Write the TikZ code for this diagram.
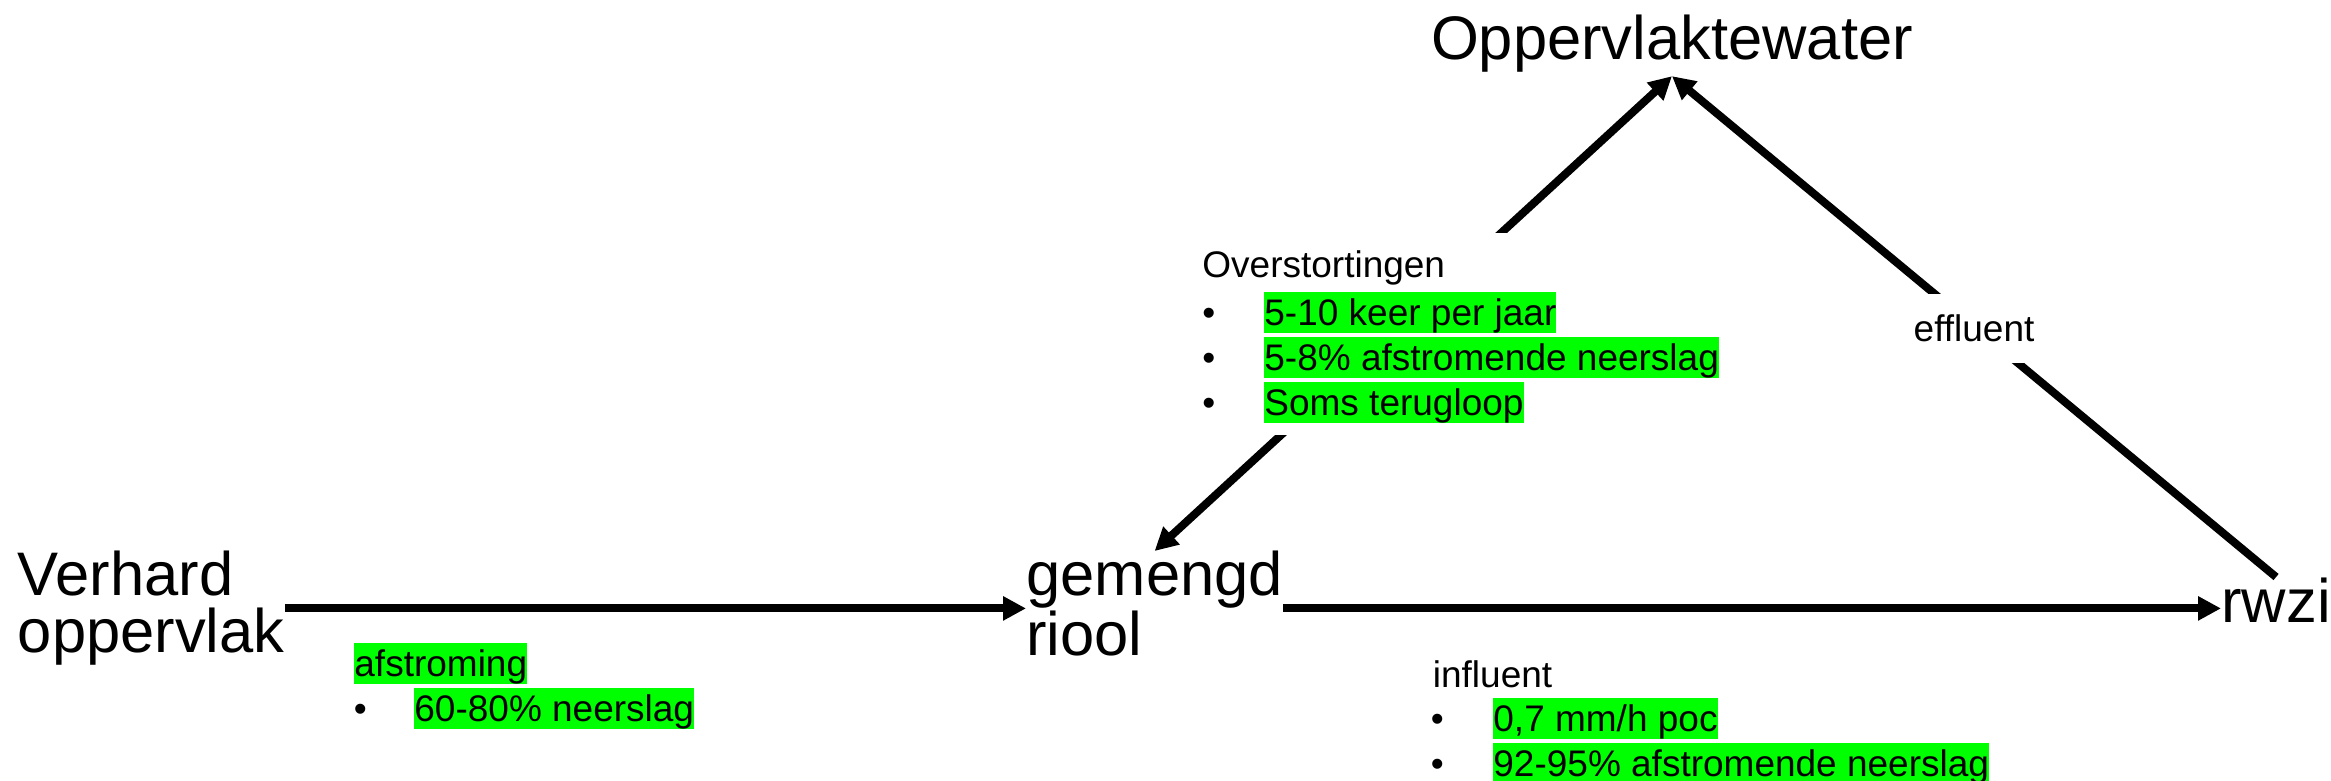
\documentclass[tikz,border=0pt]{standalone}
\usepackage{fontspec}
\setmainfont{Liberation Sans}
\usetikzlibrary{arrows.meta}
\definecolor{hlgreen}{RGB}{0,255,0}
\begin{document}
\begin{tikzpicture}[x=0.5pt,y=-0.5pt,
  big/.style={font=\fontsize{30.75pt}{28.35pt}\selectfont, inner sep=0pt, align=left},
  small/.style={font=\fontsize{18.5pt}{22pt}\selectfont, inner sep=0pt, anchor=base west},
  hl/.style={small, fill=hlgreen, text height=16.74pt, text depth=3.92pt},
  flow/.style={line width=4pt, -{Triangle[length=11.5pt,width=11.5pt]}},
  dflow/.style={line width=4pt, {Triangle[length=11.5pt,width=11.5pt]}-{Triangle[length=11.5pt,width=11.5pt]}},
  ]
\useasboundingbox (0,0) rectangle (2331,781);
% main nodes
\node[big, anchor=base, inner ysep=1.5pt] (ow) at (1672,60) {Oppervlaktewater};
\node[big, anchor=north west] (verhard) at (17.5,551) {Verhard\\oppervlak};
\node[big, anchor=north west] (gemengd) at (1026,551) {gemengd\\riool};
\node[big, anchor=base west] (rwzi) at (2221,622) {rwzi};
% connectors
\draw[flow] (verhard.east) -- (verhard.east -| gemengd.west);
\draw[flow] (gemengd.east |- verhard.east) -- (rwzi.west |- verhard.east);
\draw[dflow] (gemengd.north) -- (ow.south);
\draw[flow] (rwzi.north) -- node[small, anchor=center, fill=white, inner xsep=3pt, inner ysep=6.9pt, text height=16.74pt, text depth=3.92pt, yshift=-1pt] (eff) {effluent} (ow.south);
% overstortingen text box
\fill[white] (1190,233) rectangle (1740,435);
\node[small] (ovt) at (1202,278) {Overstortingen};
\node[small] (ovb1) at (1202,325.5) {•};
\node[small] (ovb2) at (1202,370.5) {•};
\node[small] (ovb3) at (1202,415.5) {•};
\node[hl] (ov1) at (1264,325.5) {5-10 keer per jaar};
\node[hl] (ov2) at (1264,370.5) {5-8\% afstromende neerslag};
\node[hl] (ov3) at (1264,415.5) {Soms terugloop};
% afstroming
\node[hl] (af) at (354,676.5) {afstroming};
\node[small] (afb1) at (353.5,721.5) {•};
\node[hl] (af1) at (414,721.5) {60-80\% neerslag};
% influent
\node[small] (inf) at (1432.5,687) {influent};
\node[small] (infb1) at (1430.5,731.5) {•};
\node[small] (infb2) at (1430.5,776.5) {•};
\node[hl] (inf1) at (1493,731.5) {0,7 mm/h poc};
\node[hl] (inf2) at (1493,776.5) {92-95\% afstromende neerslag};
\end{tikzpicture}
\end{document}
